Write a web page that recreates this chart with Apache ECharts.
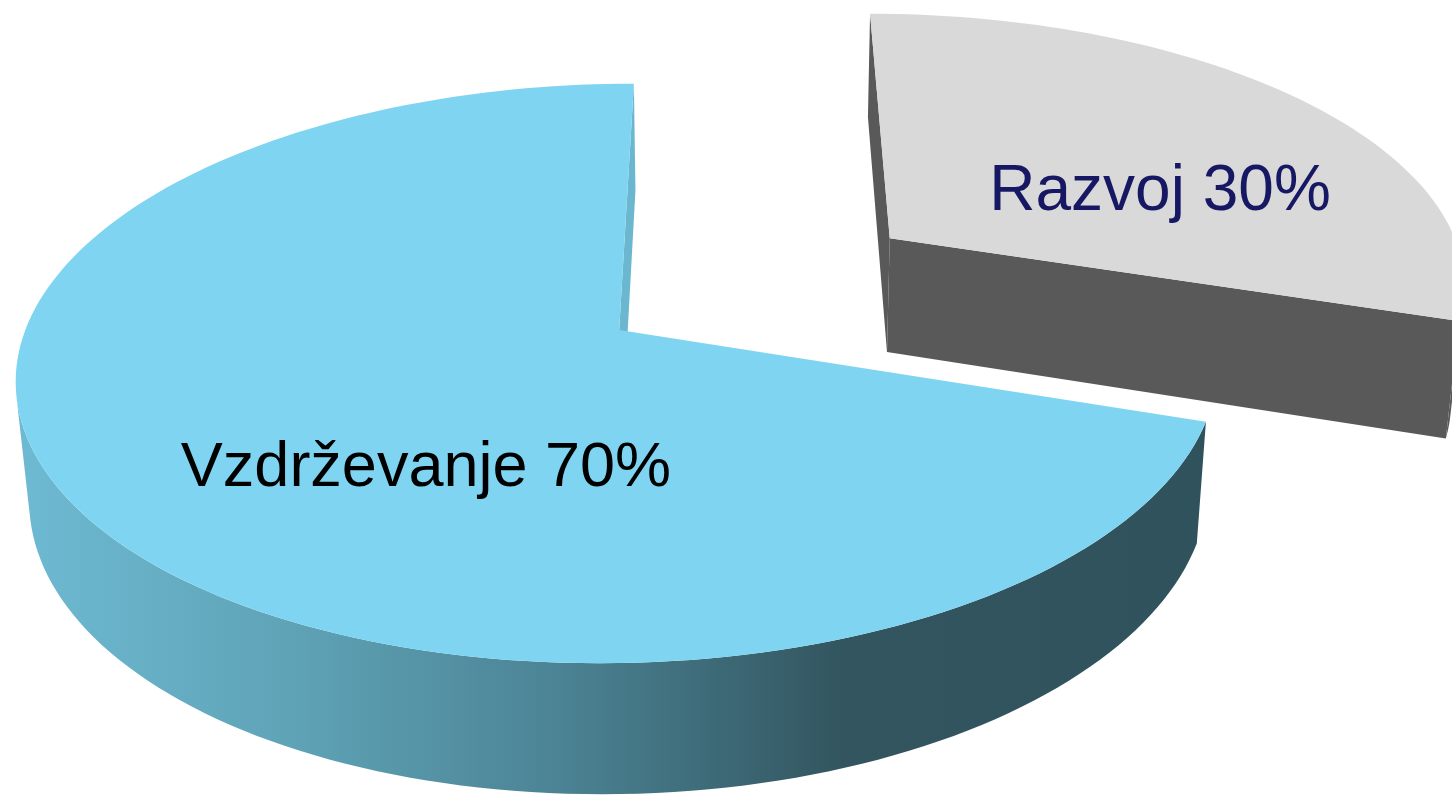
<!DOCTYPE html>
<html>
<head>
    <meta charset="utf-8">
    <script src="https://cdn.jsdelivr.net/npm/echarts@6/dist/echarts.min.js"></script>
    <style>
        html, body { margin: 0; padding: 0; background: #ffffff; }
    </style>
</head>
<body>
    <div id="main" style="width: 1452px;height:798px;"></div>
    <script type="text/javascript">
        // podatki
        var categories = ['Vzdrževanje', 'Razvoj'];
        var shares = [70, 30];

        // izgled rezin (odmik, barve, položaj napisa)
        var explode = [0, 0.58];
        var topColors = ['#7fd5f1', '#d9d9d9'];
        var faceColors = ['#6bb7cf', '#595959'];
        var labelColors = ['#000000', '#171863'];
        var labelShift = [21.5, -16];
        var labelRadius = [0.54, 0.53];
        var labelSize = [63, 64];

        // "kamera" za 3D pogled
        var cam = {
            sin: 0.477, dist: 5.86, f: 3480, x: 0.19, h: 0.23,
            ox: 732, oy: 330
        };
        cam.cos = Math.sqrt(1 - cam.sin * cam.sin);
        var camPos = [cam.x, cam.dist * cam.sin, -cam.dist * cam.cos];

        function project(X, Y, Z) {
            var depth = cam.dist - cam.sin * Y + cam.cos * Z;
            var up = cam.cos * Y + cam.sin * Z;
            return [cam.ox + cam.f * (X - cam.x) / depth, cam.oy - cam.f * up / depth];
        }
        function rad(a) { return a * Math.PI / 180; }
        function facing(p, n) {
            return (camPos[0] - p[0]) * n[0] + (camPos[1] - p[1]) * n[1] + (camPos[2] - p[2]) * n[2] > 0;
        }

        var total = shares.reduce(function (a, b) { return a + b; }, 0);

        var myChart = echarts.init(document.getElementById('main'));

        function renderItem(params, api) {
            var idx = params.dataIndex;
            var before = 0;
            for (var i = 0; i < idx; i++) before += shares[i];
            var start = 90 + 360 * before / total;
            var end = start + 360 * api.value(0) / total;
            var mid = (start + end) / 2;
            var cx = explode[idx] * Math.cos(rad(mid));
            var cz = explode[idx] * Math.sin(rad(mid));
            var h = cam.h;
            var z2 = idx === 0 ? 20 : 5;

            var steps = Math.ceil((end - start) / 1.5);
            var angles = [];
            for (var k = 0; k <= steps; k++) angles.push(start + (end - start) * k / steps);

            function rim(a, y) { return project(cx + Math.cos(rad(a)), y, cz + Math.sin(rad(a))); }

            var children = [];

            // obodna stranica
            var runs = [], cur = null;
            for (var k = 0; k < steps; k++) {
                var am = (angles[k] + angles[k + 1]) / 2;
                var n = [Math.cos(rad(am)), 0, Math.sin(rad(am))];
                var p = [cx + n[0], -h / 2, cz + n[2]];
                if (facing(p, n)) {
                    if (!cur) { cur = [angles[k]]; runs.push(cur); }
                    cur.push(angles[k + 1]);
                } else {
                    cur = null;
                }
            }
            runs.forEach(function (run) {
                var pts = run.map(function (a) { return rim(a, 0); });
                var bottom = run.map(function (a) { return rim(a, -h); }).reverse();
                var fill = idx === 0
                    ? new echarts.graphic.LinearGradient(30, 0, 1210, 0, [
                        { offset: 0, color: '#6db9d1' },
                        { offset: 0.22, color: '#5fa3b7' },
                        { offset: 0.45, color: '#4b8394' },
                        { offset: 0.69, color: '#32555f' },
                        { offset: 1, color: '#30525d' }
                    ], true)
                    : faceColors[idx];
                children.push({ type: 'polygon', z2: z2, shape: { points: pts.concat(bottom) },
                    style: { fill: fill, stroke: null } });
            });

            // ravni stranici
            [[start, start - 90], [end, end + 90]].forEach(function (f) {
                var n = [Math.cos(rad(f[1])), 0, Math.sin(rad(f[1]))];
                var p = [cx, -h / 2, cz];
                if (!facing(p, n)) return;
                var pts = [project(cx, 0, cz), rim(f[0], 0), rim(f[0], -h), project(cx, -h, cz)];
                children.push({ type: 'polygon', z2: z2, shape: { points: pts },
                    style: { fill: faceColors[idx], stroke: null } });
            });

            // zgornja ploskev
            var top = [project(cx, 0, cz)].concat(angles.map(function (a) { return rim(a, 0); }));
            children.push({ type: 'polygon', z2: z2 + 1, shape: { points: top },
                style: { fill: topColors[idx], stroke: null } });

            // napis
            var la = rad(mid + labelShift[idx]);
            var lp = project(cx + labelRadius[idx] * Math.cos(la), 0, cz + labelRadius[idx] * Math.sin(la));
            children.push({
                type: 'text', z2: z2 + 2,
                style: {
                    text: categories[idx] + ' ' + Math.round(100 * api.value(0) / total) + '%',
                    x: lp[0], y: lp[1],
                    align: 'center', verticalAlign: 'middle',
                    fontSize: labelSize[idx], fontFamily: '"Liberation Sans", Arial, Helvetica, sans-serif',
                    fill: labelColors[idx]
                }
            });

            return { type: 'group', children: children };
        }

        var option = {
            animation: false,
            series: [
                {
                    type: 'custom',
                    coordinateSystem: 'none',
                    renderItem: renderItem,
                    data: shares.map(function (v, i) { return { name: categories[i], value: [v] }; })
                }
            ]
        };

        myChart.setOption(option);
    </script>
</body>
</html>
